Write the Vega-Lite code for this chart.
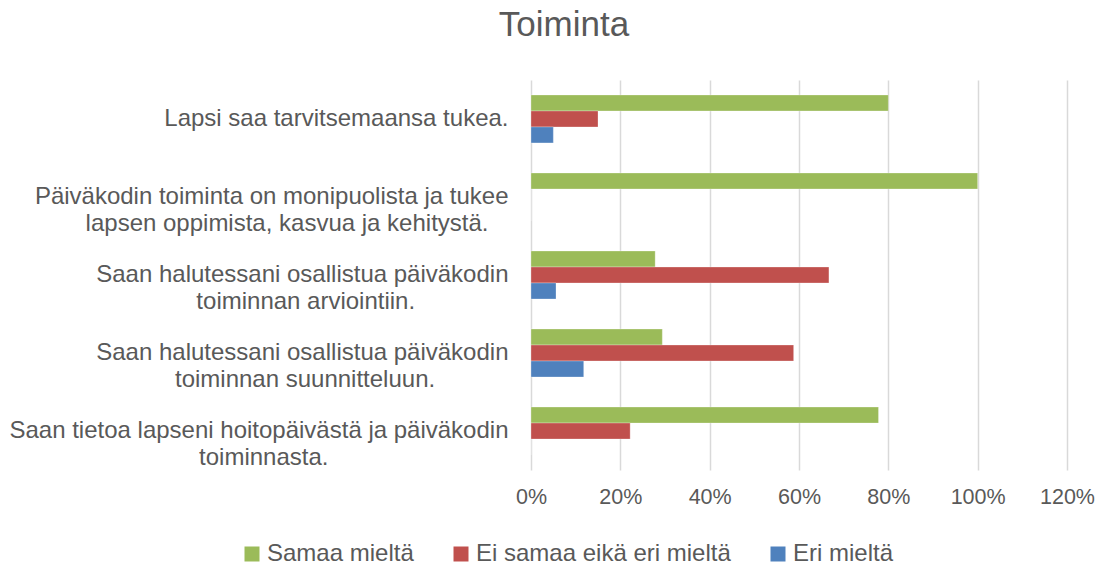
{
  "$schema": "https://vega.github.io/schema/vega-lite/v6.json",
  "width": 536,
  "height": 390,
  "autosize": "none",
  "padding": {"left": 531, "top": 80, "right": 40, "bottom": 95},
  "background": "white",
  "title": {
    "text": "Toiminta",
    "fontSize": 35,
    "font": "Liberation Sans",
    "fontWeight": "normal",
    "color": "#595959",
    "anchor": "middle",
    "dx": -235,
    "offset": 37
  },
  "data": {
    "values": [
      {"kysymys": "Lapsi saa tarvitsemaansa tukea.", "vastaus": "Samaa mieltä", "osuus": 0.80},
      {"kysymys": "Lapsi saa tarvitsemaansa tukea.", "vastaus": "Ei samaa eikä eri mieltä", "osuus": 0.15},
      {"kysymys": "Lapsi saa tarvitsemaansa tukea.", "vastaus": "Eri mieltä", "osuus": 0.05},
      {"kysymys": "Päiväkodin toiminta on monipuolista ja tukee|lapsen oppimista, kasvua ja kehitystä.\u00a0\u00a0\u00a0\u200b", "vastaus": "Samaa mieltä", "osuus": 1.00},
      {"kysymys": "Päiväkodin toiminta on monipuolista ja tukee|lapsen oppimista, kasvua ja kehitystä.\u00a0\u00a0\u00a0\u200b", "vastaus": "Ei samaa eikä eri mieltä", "osuus": 0},
      {"kysymys": "Päiväkodin toiminta on monipuolista ja tukee|lapsen oppimista, kasvua ja kehitystä.\u00a0\u00a0\u00a0\u200b", "vastaus": "Eri mieltä", "osuus": 0},
      {"kysymys": "Saan halutessani osallistua päiväkodin|toiminnan arviointiin.\u00a0\u00a0\u00a0\u00a0\u00a0\u00a0\u00a0\u00a0\u00a0\u00a0\u00a0\u00a0\u00a0\u00a0\u200b", "vastaus": "Samaa mieltä", "osuus": 0.278},
      {"kysymys": "Saan halutessani osallistua päiväkodin|toiminnan arviointiin.\u00a0\u00a0\u00a0\u00a0\u00a0\u00a0\u00a0\u00a0\u00a0\u00a0\u00a0\u00a0\u00a0\u00a0\u200b", "vastaus": "Ei samaa eikä eri mieltä", "osuus": 0.667},
      {"kysymys": "Saan halutessani osallistua päiväkodin|toiminnan arviointiin.\u00a0\u00a0\u00a0\u00a0\u00a0\u00a0\u00a0\u00a0\u00a0\u00a0\u00a0\u00a0\u00a0\u00a0\u200b", "vastaus": "Eri mieltä", "osuus": 0.056},
      {"kysymys": "Saan halutessani osallistua päiväkodin|toiminnan suunnitteluun.\u00a0\u00a0\u00a0\u00a0\u00a0\u00a0\u00a0\u00a0\u00a0\u00a0\u00a0\u200b", "vastaus": "Samaa mieltä", "osuus": 0.294},
      {"kysymys": "Saan halutessani osallistua päiväkodin|toiminnan suunnitteluun.\u00a0\u00a0\u00a0\u00a0\u00a0\u00a0\u00a0\u00a0\u00a0\u00a0\u00a0\u200b", "vastaus": "Ei samaa eikä eri mieltä", "osuus": 0.588},
      {"kysymys": "Saan halutessani osallistua päiväkodin|toiminnan suunnitteluun.\u00a0\u00a0\u00a0\u00a0\u00a0\u00a0\u00a0\u00a0\u00a0\u00a0\u00a0\u200b", "vastaus": "Eri mieltä", "osuus": 0.118},
      {"kysymys": "Saan tietoa lapseni hoitopäivästä ja päiväkodin|toiminnasta.\u00a0\u00a0\u00a0\u00a0\u00a0\u00a0\u00a0\u00a0\u00a0\u00a0\u00a0\u00a0\u00a0\u00a0\u00a0\u00a0\u00a0\u00a0\u00a0\u00a0\u00a0\u00a0\u00a0\u00a0\u00a0\u00a0\u00a0\u200b", "vastaus": "Samaa mieltä", "osuus": 0.778},
      {"kysymys": "Saan tietoa lapseni hoitopäivästä ja päiväkodin|toiminnasta.\u00a0\u00a0\u00a0\u00a0\u00a0\u00a0\u00a0\u00a0\u00a0\u00a0\u00a0\u00a0\u00a0\u00a0\u00a0\u00a0\u00a0\u00a0\u00a0\u00a0\u00a0\u00a0\u00a0\u00a0\u00a0\u00a0\u00a0\u200b", "vastaus": "Ei samaa eikä eri mieltä", "osuus": 0.222},
      {"kysymys": "Saan tietoa lapseni hoitopäivästä ja päiväkodin|toiminnasta.\u00a0\u00a0\u00a0\u00a0\u00a0\u00a0\u00a0\u00a0\u00a0\u00a0\u00a0\u00a0\u00a0\u00a0\u00a0\u00a0\u00a0\u00a0\u00a0\u00a0\u00a0\u00a0\u00a0\u00a0\u00a0\u00a0\u00a0\u200b", "vastaus": "Eri mieltä", "osuus": 0}
    ]
  },
  "mark": {"type": "bar", "stroke": "white", "strokeOpacity": 0.35, "strokeWidth": 0.8},
  "encoding": {
    "y": {
      "field": "kysymys",
      "type": "nominal",
      "sort": null,
      "scale": {"paddingInner": 0.385, "paddingOuter": 0.192},
      "axis": {
        "title": null,
        "labelExpr": "split(datum.label, '|')",
        "labelFont": "Liberation Sans",
        "labelFontSize": 24,
        "labelColor": "#595959",
        "labelLineHeight": 27,
        "labelPadding": 23,
        "labelLimit": 700,
        "ticks": false,
        "domain": false,
        "grid": false,
        "encode": {
          "labels": {
            "update": {
              "dy": {"signal": "indexof(datum.label, '|') >= 0 ? -13.5 : 0"}
            }
          }
        }
      }
    },
    "yOffset": {
      "field": "vastaus",
      "type": "nominal",
      "sort": ["Samaa mieltä", "Ei samaa eikä eri mieltä", "Eri mieltä"],
      "scale": {"paddingInner": 0, "paddingOuter": 0}
    },
    "x": {
      "field": "osuus",
      "type": "quantitative",
      "scale": {"domain": [0, 1.2], "nice": false},
      "axis": {
        "title": null,
        "format": ".0%",
        "values": [0, 0.2, 0.4, 0.6, 0.8, 1.0, 1.2],
        "labelFont": "Liberation Sans",
        "labelFontSize": 21.5,
        "labelColor": "#595959",
        "labelPadding": 16,
        "labelFlush": false,
        "labelOverlap": false,
        "ticks": false,
        "domain": false,
        "grid": true,
        "gridColor": "#D9D9D9",
        "gridWidth": 1.5
      }
    },
    "color": {
      "field": "vastaus",
      "type": "nominal",
      "sort": ["Samaa mieltä", "Ei samaa eikä eri mieltä", "Eri mieltä"],
      "scale": {
        "domain": ["Samaa mieltä", "Ei samaa eikä eri mieltä", "Eri mieltä"],
        "range": ["#9BBB59", "#C0504D", "#4F81BD"]
      },
      "legend": {
        "title": null,
        "orient": "none",
        "direction": "horizontal",
        "legendX": -291,
        "legendY": 462,
        "padding": 0,
        "symbolType": "square",
        "symbolSize": 225,
        "symbolStrokeWidth": 0,
        "labelFont": "Liberation Sans",
        "labelFontSize": 24,
        "labelColor": "#595959",
        "labelOffset": 3,
        "labelLimit": 400,
        "columnPadding": 35
      }
    }
  },
  "config": {"view": {"stroke": null}}
}
